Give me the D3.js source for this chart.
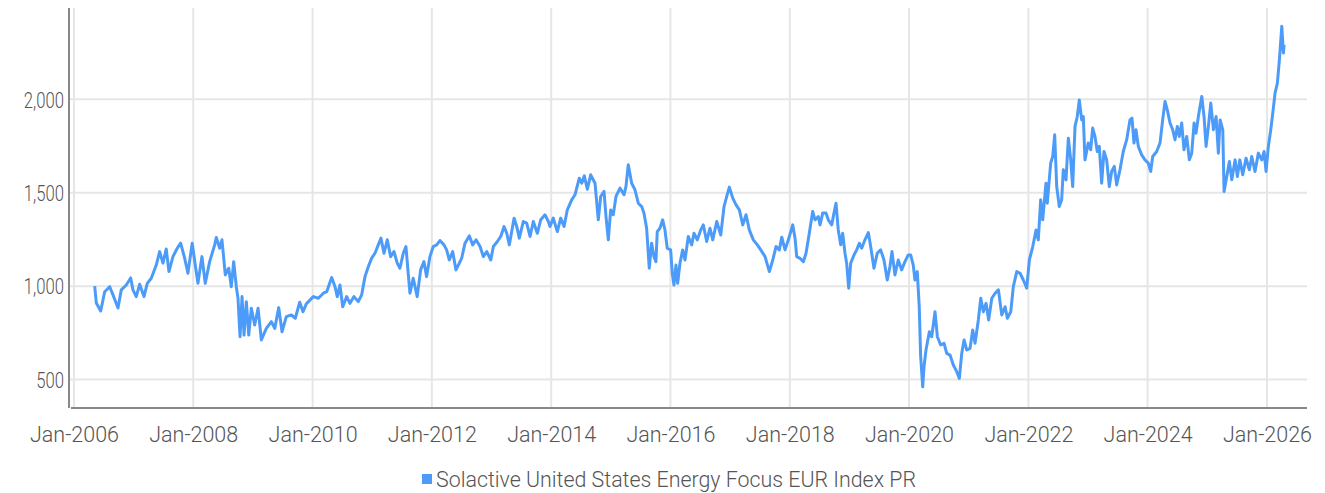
<!DOCTYPE html>
<html><head><meta charset="utf-8">
<script src="https://cdn.jsdelivr.net/npm/d3@7"></script>
<style>
html,body{margin:0;padding:0;background:#fff;}
svg{display:block;}
text{font-family:Roboto,"Noto Sans",sans-serif;font-weight:300;fill:#555;}
</style></head>
<body><svg id="chart" width="1325" height="493"></svg>
<script>
const seriesName = "Solactive United States Energy Focus EUR Index PR";
const yTicks = [500, 1000, 1500, 2000];
const xTickYears = [2006, 2008, 2010, 2012, 2014, 2016, 2018, 2020, 2022, 2024, 2026];

// dates as decimal years
const dates = [
2006.347,2006.374,2006.448,2006.515,2006.599,2006.654,2006.738,2006.793,2006.877,2006.951,2006.989,2007.044,2007.101,2007.174,2007.229,2007.296,2007.380,2007.437,2007.492,2007.547,2007.593,2007.660,2007.732,2007.789,2007.856,2007.911,2007.983,2008.034,2008.079,2008.146,2008.201,2008.275,2008.359,2008.386,2008.443,2008.481,2008.537,2008.594,2008.637,2008.677,2008.721,2008.749,2008.783,2008.817,2008.850,2008.889,2008.929,2008.972,2009.029,2009.085,2009.140,2009.224,2009.308,2009.365,2009.432,2009.487,2009.559,2009.643,2009.710,2009.784,2009.839,2009.894,
2010.012,2010.096,2010.180,2010.237,2010.320,2010.376,2010.414,2010.459,2010.505,2010.572,2010.627,2010.694,2010.766,2010.823,2010.879,2010.934,2010.991,2011.046,2011.102,2011.147,2011.197,2011.253,2011.309,2011.365,2011.420,2011.465,2011.521,2011.566,2011.604,2011.633,2011.688,2011.755,2011.812,2011.868,2011.913,2011.968,2012.024,2012.081,2012.136,2012.203,2012.248,2012.292,2012.349,2012.404,2012.460,2012.500,2012.555,2012.627,2012.684,2012.740,2012.807,2012.862,2012.919,2012.986,2013.030,2013.097,2013.154,2013.209,2013.254,2013.298,2013.377,2013.422,2013.465,2013.532,2013.589,2013.645,2013.700,2013.767,2013.824,2013.896,2013.952,2013.980,2014.035,2014.103,
2014.159,2014.215,2014.270,2014.344,2014.399,2014.471,2014.512,2014.555,2014.606,2014.663,2014.735,2014.790,2014.830,2014.886,2014.919,2014.958,2014.998,2015.041,2015.087,2015.154,2015.221,2015.254,2015.293,2015.350,2015.405,2015.461,2015.518,2015.556,2015.601,2015.645,2015.685,2015.724,2015.757,2015.779,2015.824,2015.870,2015.908,2015.947,2016.004,2016.031,2016.059,2016.093,2016.121,2016.160,2016.205,2016.244,2016.299,2016.356,2016.394,2016.450,2016.507,2016.550,2016.607,2016.662,2016.708,2016.775,2016.842,2016.897,2016.942,2016.986,2017.043,2017.098,2017.154,2017.211,2017.266,2017.321,2017.388,2017.456,2017.513,2017.585,2017.657,2017.714,2017.769,2017.824,2017.865,2017.920,2017.976,
2018.049,2018.088,2018.116,2018.171,2018.227,2018.272,2018.327,2018.384,2018.423,2018.478,2018.507,2018.552,2018.607,2018.646,2018.703,2018.741,2018.775,2018.813,2018.854,2018.887,2018.926,2018.954,2018.988,2019.022,2019.077,2019.122,2019.166,2019.206,2019.261,2019.317,2019.357,2019.412,2019.467,2019.524,2019.580,2019.635,2019.680,2019.714,2019.764,2019.819,2019.876,2019.932,2019.987,2020.027,2020.071,2020.099,2020.138,2020.171,2020.195,2020.229,2020.251,2020.284,2020.340,2020.380,2020.435,2020.474,2020.530,2020.586,2020.631,2020.686,2020.741,2020.798,2020.842,2020.882,2020.921,2020.966,2021.021,2021.066,2021.105,2021.160,2021.201,2021.244,2021.290,2021.333,2021.386,2021.441,2021.497,2021.553,2021.609,2021.647,2021.704,2021.747,2021.805,2021.860,2021.915,2021.972,
2022.016,2022.073,2022.128,2022.166,2022.206,2022.240,2022.295,2022.317,2022.374,2022.408,2022.441,2022.475,2022.518,2022.558,2022.585,2022.631,2022.670,2022.710,2022.743,2022.782,2022.820,2022.854,2022.894,2022.921,2022.949,2023.004,2023.045,2023.078,2023.117,2023.155,2023.189,2023.229,2023.268,2023.313,2023.357,2023.397,2023.441,2023.481,2023.536,2023.592,2023.649,2023.704,2023.738,2023.771,2023.805,2023.844,2023.900,2023.955,2024.011,2024.051,2024.085,2024.152,2024.207,2024.252,2024.291,2024.329,2024.375,2024.420,2024.458,2024.497,2024.530,2024.570,2024.609,2024.654,2024.698,2024.738,2024.777,2024.810,2024.849,2024.906,2024.944,2024.978,2025.017,2025.057,2025.101,2025.146,2025.184,2025.213,2025.258,2025.280,2025.325,2025.369,2025.409,2025.465,2025.503,2025.544,2025.593,2025.648,2025.704,2025.744,2025.799,2025.855,2025.912,2025.951,2025.984,2026.023,2026.063,2026.097,2026.135,2026.174,2026.208,2026.248,2026.275,2026.287
];
const values = [
1000,910,867,970,997,953,883,980,1006,1044,980,944,1010,944,1015,1042,1113,1185,1123,1199,1078,1158,1203,1230,1150,1069,1230,1113,1015,1158,1015,1131,1221,1260,1203,1248,1060,1096,997,1131,997,935,729,944,738,917,738,882,792,882,712,774,810,774,885,756,837,846,828,914,863,905,
944,935,962,970,1046,997,944,1006,890,944,908,944,917,953,1051,1104,1150,1176,1221,1257,1176,1248,1158,1185,1123,1096,1176,1212,1069,962,1042,944,1087,1131,1051,1158,1212,1221,1244,1221,1194,1140,1185,1087,1123,1150,1230,1269,1221,1248,1212,1158,1185,1140,1212,1239,1266,1319,1283,1221,1364,1319,1257,1346,1337,1266,1346,1283,1355,1382,1346,1319,1364,1292,
1364,1319,1408,1462,1489,1578,1551,1591,1519,1596,1551,1355,1480,1507,1373,1248,1408,1382,1480,1525,1489,1533,1650,1551,1516,1444,1426,1391,1310,1096,1230,1158,1131,1292,1310,1355,1301,1203,1194,1069,1006,1113,1015,1123,1194,1140,1266,1221,1283,1248,1301,1328,1239,1310,1248,1346,1274,1426,1480,1530,1471,1435,1408,1328,1382,1301,1248,1221,1194,1158,1078,1140,1212,1194,1262,1194,1248,
1328,1257,1158,1149,1131,1176,1283,1400,1355,1373,1328,1391,1391,1355,1328,1391,1444,1301,1221,1283,1176,1123,989,1123,1167,1194,1230,1203,1248,1287,1212,1096,1176,1194,1140,1033,1105,1185,1060,1140,1087,1131,1167,1167,1113,1033,1078,890,622,461,569,658,756,729,863,729,685,694,640,631,578,542,506,640,712,658,667,765,694,819,935,863,908,819,935,962,980,846,890,828,863,997,1078,1069,1033,989,
1140,1212,1301,1248,1462,1355,1551,1444,1659,1694,1810,1533,1426,1462,1623,1569,1792,1676,1533,1855,1908,1997,1890,1908,1676,1766,1730,1846,1801,1721,1748,1551,1721,1676,1533,1614,1641,1542,1623,1721,1784,1890,1899,1766,1837,1748,1703,1676,1659,1614,1694,1721,1766,1890,1989,1944,1873,1837,1784,1855,1801,1873,1730,1801,1676,1712,1873,1819,1908,2015,1908,1748,1855,1980,1837,1908,1712,1890,1837,1507,1587,1667,1569,1676,1587,1676,1596,1685,1623,1694,1614,1712,1676,1721,1614,1748,1837,1926,2033,2087,2212,2391,2248,2292
];

function yearToDate(y){
  const yr = Math.floor(y);
  const a = new Date(yr,0,1), b = new Date(yr+1,0,1);
  return new Date(+a + (y-yr)*(b-a));
}
const data = dates.map((d,i)=>({date:yearToDate(d), value:values[i]}));

const svg = d3.select("#chart");
const plot = {left:69, right:1307, top:8, bottom:407};

const x = d3.scaleTime()
  .domain([new Date(2006,0,1), new Date(2026,0,1)])
  .range([74, 1267]);
const y = d3.scaleLinear()
  .domain([353, 2489])
  .range([plot.bottom, plot.top]);

// gridlines
svg.append("g").selectAll("line").data(yTicks).join("line")
  .attr("x1", plot.left).attr("x2", plot.right)
  .attr("y1", d=>y(d)).attr("y2", d=>y(d))
  .attr("stroke","#e6e6e6").attr("stroke-width",2);
const xTickDates = xTickYears.map(yr=>new Date(yr,0,1));
svg.append("g").selectAll("line").data(xTickDates).join("line")
  .attr("x1", d=>x(d)).attr("x2", d=>x(d))
  .attr("y1", plot.top).attr("y2", plot.bottom)
  .attr("stroke","#e6e6e6").attr("stroke-width",2);

// line
const line = d3.line().x(d=>x(d.date)).y(d=>y(d.value));
svg.append("path").datum(data)
  .attr("d", line).attr("fill","none")
  .attr("stroke","#4d9bf8").attr("stroke-width",3)
  .attr("stroke-linejoin","round");

// axis lines
svg.append("line").attr("x1",plot.left).attr("x2",plot.left)
  .attr("y1",plot.top).attr("y2",plot.bottom+1)
  .attr("stroke","#888").attr("stroke-width",2);
svg.append("line").attr("x1",plot.left+2).attr("x2",plot.right)
  .attr("y1",plot.bottom+1).attr("y2",plot.bottom+1)
  .attr("stroke","#888").attr("stroke-width",2);

// axes (labels only)
const gx = svg.append("g").attr("transform",`translate(0,${plot.bottom})`)
  .call(d3.axisBottom(x).tickValues(xTickDates).tickFormat(d3.timeFormat("%b-%Y")).tickSize(0));
gx.select(".domain").remove();
gx.selectAll("text").attr("y",35).attr("dy",0)
  .attr("font-size",22).attr("textLength",89).attr("lengthAdjust","spacingAndGlyphs")
  .style("font-family","Roboto").style("font-weight",300).attr("fill","#555");

const gy = svg.append("g").attr("transform",`translate(${plot.left},0)`)
  .call(d3.axisLeft(y).tickValues(yTicks).tickFormat(d3.format(",")).tickSize(0));
gy.select(".domain").remove();
gy.selectAll("text").attr("x",0).attr("dy","0.35em")
  .attr("font-size",22).attr("transform",`translate(-5,0) scale(0.76,1)`)
  .style("font-family","Roboto").style("font-weight",300).attr("fill","#555");

// legend
const lg = svg.append("g");
lg.append("rect").attr("x",422).attr("y",474).attr("width",10).attr("height",10).attr("fill","#4d9bf8");
lg.append("text").attr("x",436).attr("y",487)
  .attr("font-size",22).attr("textLength",480).attr("lengthAdjust","spacingAndGlyphs")
  .text(seriesName);
</script></body></html>
